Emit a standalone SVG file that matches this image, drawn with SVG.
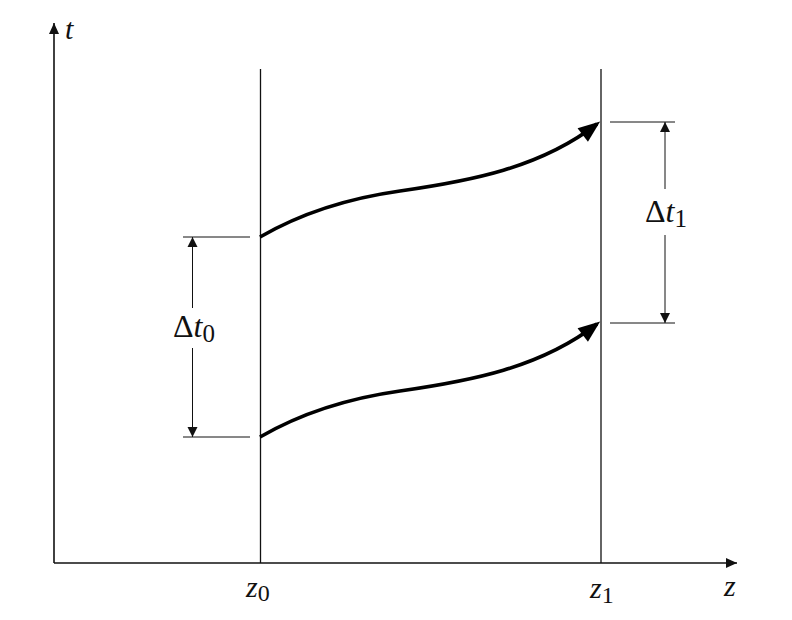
<svg xmlns="http://www.w3.org/2000/svg" width="792" height="620" viewBox="0 0 792 620">
  <style>
    .axis { stroke: #111; stroke-width: 1.6; fill: none; }
    .guide { stroke: #111; stroke-width: 1.3; fill: none; }
    .dim { stroke: #111; stroke-width: 1; fill: none; }
    .ray { stroke: #000; stroke-width: 3.6; fill: none; stroke-linecap: butt; }
    .lbl { font-family: "Liberation Serif", "Times New Roman", serif; fill: #111; }
    .it { font-style: italic; }
  </style>
  <defs>
    <marker id="axhead" markerUnits="userSpaceOnUse" markerWidth="14" markerHeight="12" viewBox="-12 -6 14 12" refX="0" refY="0" orient="auto">
      <path d="M0,0 L-11,-5 L-11,5 z" fill="#111"/>
    </marker>
    <marker id="dimhead" markerUnits="userSpaceOnUse" markerWidth="12" markerHeight="12" viewBox="-11 -6 12 12" refX="0" refY="0" orient="auto">
      <path d="M0,0 L-10,-5 L-10,5 z" fill="#111"/>
    </marker>
    <marker id="rayhead" markerUnits="userSpaceOnUse" markerWidth="26" markerHeight="20" viewBox="-20 -10 26 20" refX="0" refY="0" orient="auto">
      <path d="M4,0 L-18,-8.5 L-18,8.5 z" fill="#000"/>
    </marker>
  </defs>

  <g id="axes">
    <line class="axis" x1="54" y1="563" x2="54" y2="23" marker-end="url(#axhead)"/>
    <line class="axis" x1="54" y1="563" x2="737" y2="563" marker-end="url(#axhead)"/>
    <text class="lbl it" x="65" y="39" font-size="30">t</text>
    <text class="lbl it" x="724" y="596" font-size="30">z</text>
  </g>

  <g id="z0">
    <line class="guide" x1="260.5" y1="69" x2="260.5" y2="563"/>
    <text class="lbl" x="246" y="597" font-size="30"><tspan class="it">z</tspan><tspan font-size="24" dy="4">0</tspan></text>
  </g>

  <g id="z1">
    <line class="guide" x1="601" y1="69" x2="601" y2="563"/>
    <text class="lbl" x="590" y="598" font-size="30"><tspan class="it">z</tspan><tspan font-size="24" dy="5">1</tspan></text>
  </g>

  <g id="dt0">
    <line class="dim" x1="183" y1="237" x2="250" y2="237"/>
    <line class="dim" x1="183" y1="437" x2="250" y2="437"/>
    <line class="dim" x1="192.5" y1="308" x2="192.5" y2="237" marker-end="url(#dimhead)"/>
    <line class="dim" x1="192.5" y1="348" x2="192.5" y2="437" marker-end="url(#dimhead)"/>
    <text class="lbl" x="194" y="337" font-size="32" text-anchor="middle">Δ<tspan class="it">t</tspan><tspan font-size="25" dy="5">0</tspan></text>
  </g>

  <g id="dt1">
    <line class="dim" x1="610" y1="122" x2="675" y2="122"/>
    <line class="dim" x1="610" y1="323" x2="675" y2="323"/>
    <line class="dim" x1="665" y1="189" x2="665" y2="122" marker-end="url(#dimhead)"/>
    <line class="dim" x1="665" y1="235" x2="665" y2="323" marker-end="url(#dimhead)"/>
    <text class="lbl" x="666" y="222" font-size="32" text-anchor="middle">Δ<tspan class="it">t</tspan><tspan font-size="25" dy="5">1</tspan></text>
  </g>

  <g id="connectors">
    <path class="ray" d="M260,237 C305,211 350,198 400,191 C470,181 540,168 597,124" marker-end="url(#rayhead)"/>
    <path class="ray" d="M260,437 C305,411 350,398 400,391 C470,381 540,368 597,324" marker-end="url(#rayhead)"/>
  </g>
</svg>
